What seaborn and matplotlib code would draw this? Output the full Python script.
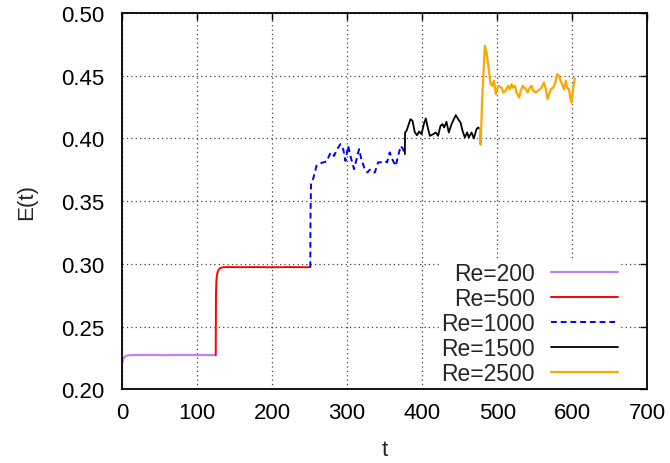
import matplotlib
matplotlib.use("Agg")
import matplotlib.pyplot as plt
import seaborn as sns
import numpy as np

# energy history, one piece per Reynolds number
t_200 = [0, 1, 2, 3, 4, 6, 8, 10, 14, 20, 40, 60, 80, 100, 120, 125]
e_200 = [0.2200, 0.2228, 0.2245, 0.2255, 0.2261, 0.2267, 0.2270, 0.2271,
         0.2272, 0.2273, 0.2273, 0.2272, 0.2273, 0.2273, 0.2272, 0.2272]

t_500 = [125, 125.3, 125.8, 126.5, 127.5, 129, 131, 134, 140, 160, 180,
         200, 220, 240, 251]
e_500 = [0.2272, 0.2750, 0.2860, 0.2905, 0.2935, 0.2955, 0.2966, 0.2972,
         0.2974, 0.2973, 0.2974, 0.2972, 0.2974, 0.2973, 0.2973]

t_1000 = [251, 251.3, 252, 254.7, 259.2, 264, 268, 272.5, 278.3, 282.7,
          286.7, 291.2, 295, 297.9, 301.5, 304.5, 309.3, 312.5, 316, 319.2,
          323.6, 327.2, 330.3, 333.9, 337, 341.3, 345.9, 350.3, 353.3, 356.9,
          360.5, 364.9, 368, 371.6, 374.7, 376.8]
e_1000 = [0.2973, 0.3400, 0.3635, 0.3675, 0.3780, 0.3800, 0.3808, 0.3815,
          0.3888, 0.3860, 0.3914, 0.3954, 0.3910, 0.3820, 0.3940, 0.3860,
          0.3754, 0.3830, 0.3914, 0.3830, 0.3754, 0.3728, 0.3750, 0.3730,
          0.3728, 0.3808, 0.3810, 0.3820, 0.3808, 0.3888, 0.3830, 0.3780,
          0.3860, 0.3940, 0.3914, 0.3875]

t_1500 = [377, 377.3, 379.2, 384.5, 387.2, 390.3, 393.3, 396, 399.2, 402.3,
          404.9, 408, 410.3, 414.7, 418.3, 421.3, 424.5, 427.2, 429.3, 432.5,
          435.6, 439.2, 442.3, 445, 448, 451.2, 453.9, 457, 460, 462.3, 465.9,
          469, 472.5, 474.7, 476.9]
e_1500 = [0.3874, 0.4047, 0.4060, 0.4153, 0.4140, 0.4047, 0.4025, 0.4055,
          0.4033, 0.4113, 0.4159, 0.4075, 0.4020, 0.4033, 0.4047, 0.4020,
          0.4100, 0.4113, 0.4087, 0.4131, 0.4047, 0.4113, 0.4153, 0.4185,
          0.4153, 0.4127, 0.4060, 0.4007, 0.4047, 0.4007, 0.4047, 0.4000,
          0.4073, 0.4087, 0.4073]

t_2500 = [477, 478, 480, 483.6, 486, 488, 491.2, 493.9, 495.6, 498.3, 501.3,
          505.9, 508, 511.6, 514.7, 517, 519.2, 521.3, 523.6, 525.9, 529.3,
          531.6, 533.9, 536, 538.3, 540.5, 543.6, 545.9, 548, 551.6, 554.7,
          556.9, 559.2, 562.3, 564.9, 567.2, 569.3, 571.6, 574.7, 576.9, 580,
          582.7, 584.5, 586.7, 588.9, 591.6, 593.3, 595.6, 597.9, 599.2,
          601.3, 603.6]
e_2500 = [0.4073, 0.3950, 0.4300, 0.4738, 0.4680, 0.4592, 0.4432, 0.4420,
          0.4459, 0.4352, 0.4419, 0.4405, 0.4366, 0.4380, 0.4419, 0.4392,
          0.4432, 0.4405, 0.4419, 0.4366, 0.4326, 0.4380, 0.4419, 0.4405,
          0.4392, 0.4366, 0.4405, 0.4419, 0.4380, 0.4366, 0.4380, 0.4392,
          0.4405, 0.4446, 0.4392, 0.4313, 0.4352, 0.4392, 0.4405, 0.4432,
          0.4512, 0.4498, 0.4459, 0.4432, 0.4392, 0.4459, 0.4405, 0.4392,
          0.4313, 0.4286, 0.4405, 0.4478]

x_ticks = [0, 100, 200, 300, 400, 500, 600, 700]
y_ticks = [0.20, 0.25, 0.30, 0.35, 0.40, 0.45, 0.50]

sns.set_style("white")
plt.rcParams["font.family"] = ["Liberation Sans", "DejaVu Sans"]

fig, ax = plt.subplots(figsize=(6.7, 4.64), dpi=100)
fig.subplots_adjust(left=0.182, right=0.966, bottom=0.159, top=0.970)

series = [
    (t_200, e_200, "Re=200", "#c080ff", "-", 1.6),
    (t_500, e_500, "Re=500", "#ff0000", "-", 1.4),
    (t_1000, e_1000, "Re=1000", "#0000ff", (0, (3, 2)), 1.4),
    (t_1500, e_1500, "Re=1500", "#000000", "-", 1.3),
    (t_2500, e_2500, "Re=2500", "#ffa500", "-", 1.6),
]
for t, e, lab, col, ls, lw in series:
    sns.lineplot(x=t, y=e, ax=ax, color=col, linestyle=ls, linewidth=lw,
                 label=lab, sort=False, estimator=None)

ax.set_xlim(0, 700)
ax.set_ylim(0.20, 0.50)
ax.set_xticks(x_ticks)
ax.set_yticks(y_ticks)
ax.set_yticklabels([f"{v:.2f}" for v in y_ticks])
ax.grid(True, color="#444444", linestyle=(0, (1, 2.5)), linewidth=0.9)
ax.set_axisbelow(True)
ax.tick_params(direction="in", length=5, width=1, top=True, right=True,
               labelsize=16, pad=9, colors="black")
ax.tick_params(axis="y", pad=13)
for sp in ax.spines.values():
    sp.set_linewidth(1.3)
    sp.set_color("black")

ax.set_xlabel("t", fontsize=16, labelpad=12)
ax.set_ylabel("E(t)", fontsize=16, labelpad=17)

leg = ax.legend(loc="lower right", bbox_to_anchor=(0.948, 0.006),
                markerfirst=False, fontsize=16.5, frameon=True,
                facecolor="white", edgecolor="none", framealpha=1,
                handlelength=2.9, handletextpad=0.7, labelspacing=0.08,
                borderpad=0.1, borderaxespad=0.0, fancybox=False)

fig.savefig("out.png", dpi=100)
